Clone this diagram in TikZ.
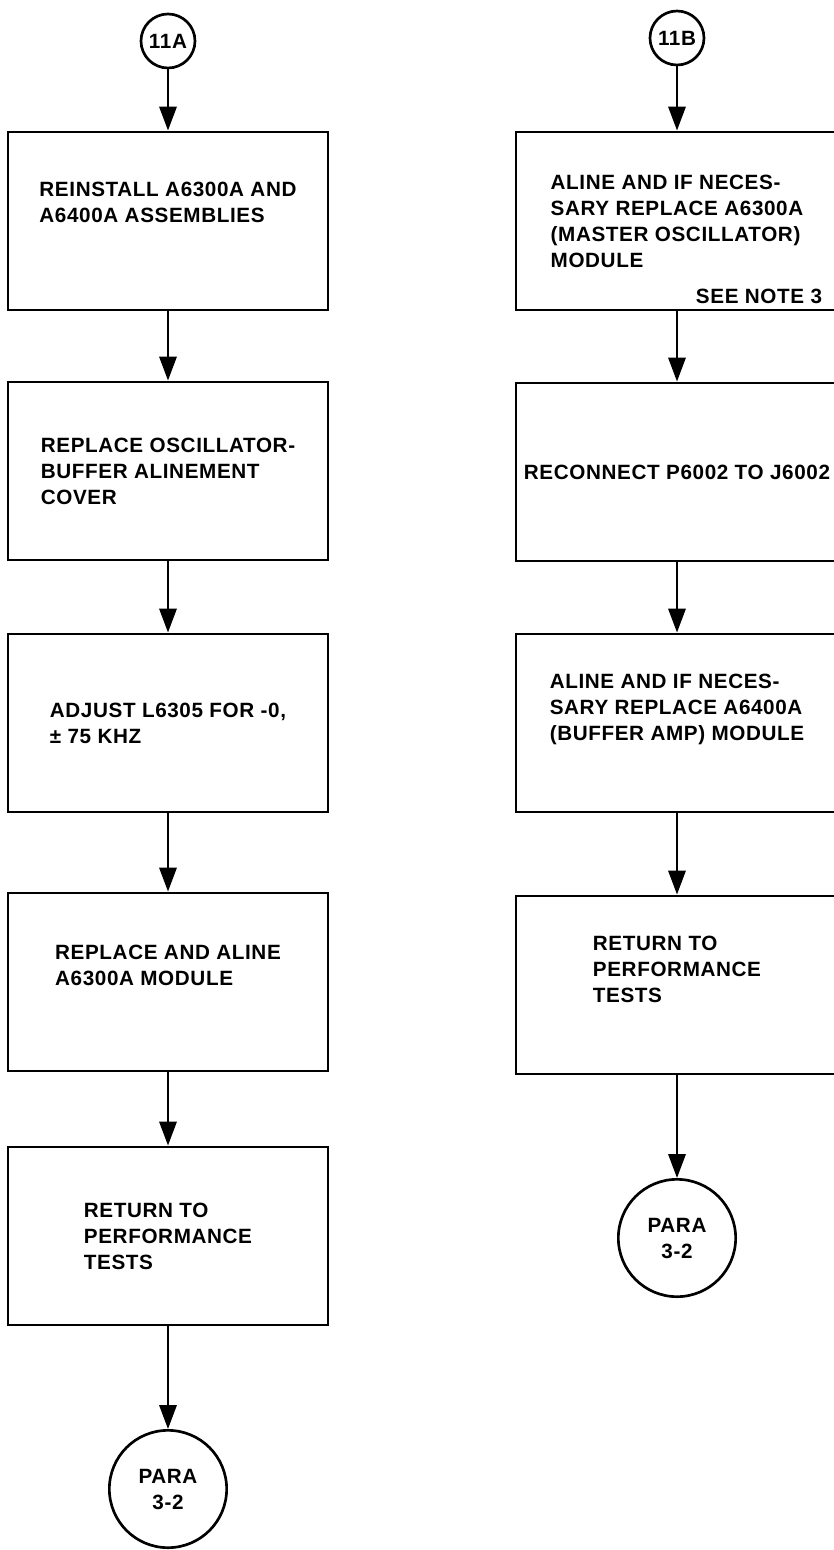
\documentclass[tikz,border=0pt]{standalone}
\usepackage{fontspec}
\setmainfont{Liberation Sans}[LetterSpace=3]
\usetikzlibrary{arrows.meta}

\tikzset{every picture/.style={line width=0.75pt}}
\tikzset{
  stepbox/.style={draw, rectangle, line width=2.2pt, minimum width=240pt, minimum height=133.5pt, inner sep=0pt, align=left, font=\fontsize{15.5}{19.5}\selectfont\bfseries},
  stepboxr/.style={stepbox, minimum width=241.5pt},
  linkcircle/.style={draw, circle, line width=2pt, minimum size=40.5pt, inner sep=0pt, font=\fontsize{15.5}{19.5}\selectfont\bfseries},
  paracircle/.style={linkcircle, minimum size=88pt, align=center},
  flowarrow/.style={line width=1.8pt, -{Triangle[length=18pt,width=13pt]}}
}

\begin{document}
\begin{tikzpicture}[x=0.75pt,y=0.75pt,yscale=-1,xscale=1]
\useasboundingbox (0,0) rectangle (833,1550);

%Left column
\node [linkcircle] (c11a) at (168,41) {11A};
\node [stepbox] (reinstall) at (168,221) {REINSTALL A6300A AND\\A6400A ASSEMBLIES\\[8pt]};
\node [stepbox] (cover) at (168,471) {REPLACE OSCILLATOR-\\BUFFER ALINEMENT\\COVER};
\node [stepbox] (adjust) at (168,723) {ADJUST L6305 FOR -0,\\± 75 KHZ};
\node [stepbox] (realine) at (168,982) {REPLACE AND ALINE\\A6300A MODULE\\[6pt]};
\node [stepbox] (returnl) at (168,1236) {RETURN TO\\PERFORMANCE\\TESTS};
\node [paracircle] (paral) at (168,1489) {PARA\\3-2};

%Right column
\node [linkcircle] (c11b) at (677,38) {11B};
\node [stepboxr] (alineosc) at (677,221) {ALINE AND IF NECES-\\SARY REPLACE A6300A\\(MASTER OSCILLATOR)\\MODULE};
\node [anchor=base east, font=\fontsize{15.5}{19.5}\selectfont\bfseries] (note) at (827,303) {SEE NOTE 3};
\node [stepboxr] (reconnect) at (677,472) {RECONNECT P6002 TO J6002};
\node [stepboxr] (alinebuf) at (677,723) {ALINE AND IF NECES-\\SARY REPLACE A6400A\\(BUFFER AMP) MODULE\\[4pt]};
\node [stepboxr] (returnr) at (677,985) {RETURN TO\\PERFORMANCE\\TESTS\\[4pt]};
\node [paracircle] (parar) at (677,1238) {PARA\\3-2};

%Straight Lines
\draw [flowarrow] (c11a) -- (reinstall);
\draw [flowarrow] (reinstall) -- (cover);
\draw [flowarrow] (cover) -- (adjust);
\draw [flowarrow] (adjust) -- (realine);
\draw [flowarrow] (realine) -- (returnl);
\draw [flowarrow] (returnl) -- (paral);

\draw [flowarrow] (c11b) -- (alineosc);
\draw [flowarrow] (alineosc) -- (reconnect);
\draw [flowarrow] (reconnect) -- (alinebuf);
\draw [flowarrow] (alinebuf) -- (returnr);
\draw [flowarrow] (returnr) -- (parar);

\end{tikzpicture}
\end{document}
